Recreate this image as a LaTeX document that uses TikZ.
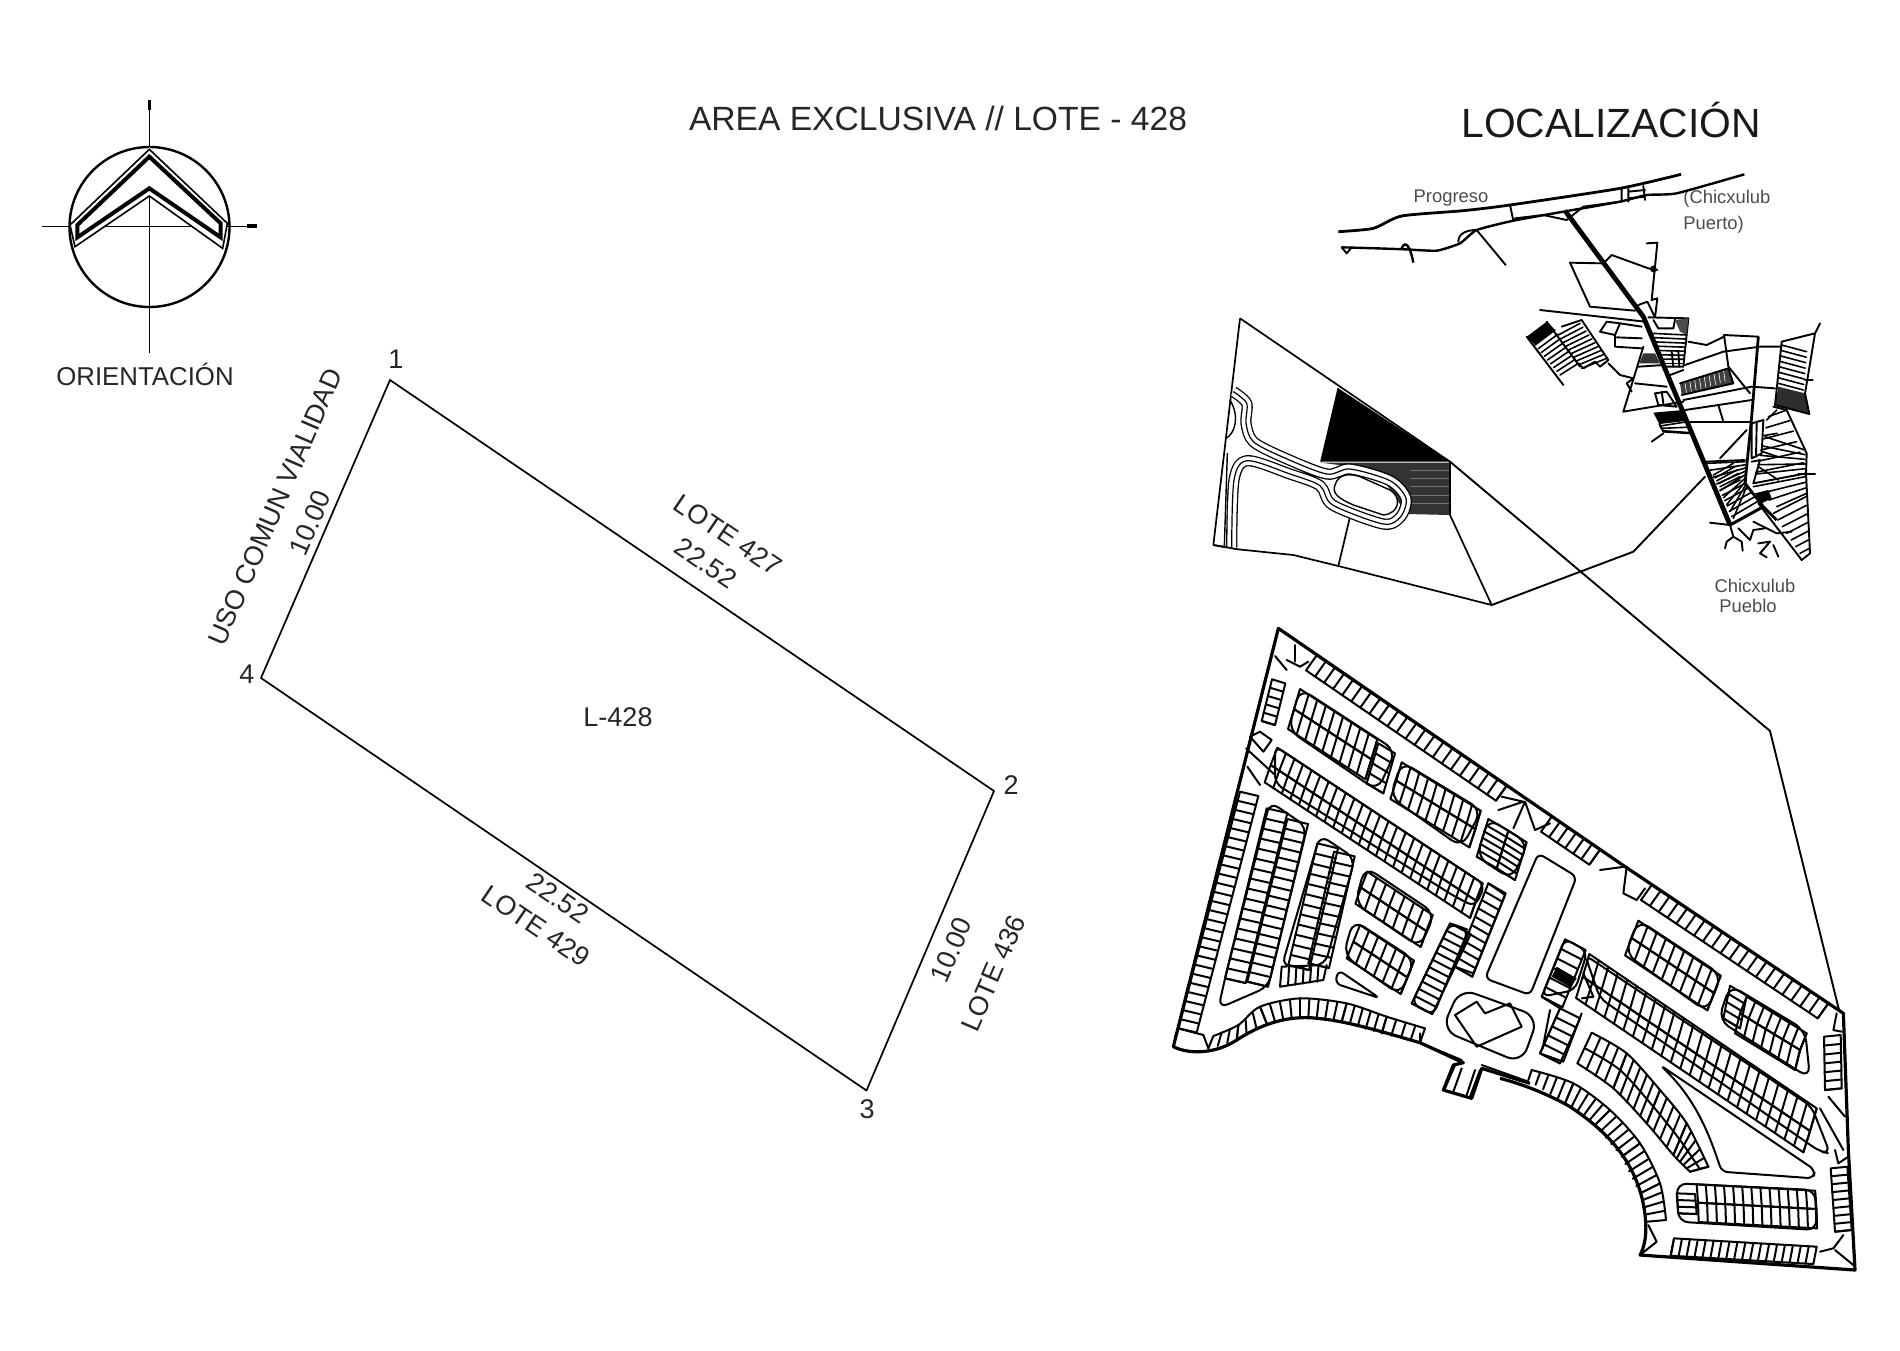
\documentclass[tikz,border=0pt]{standalone}
\usepackage{fontspec}
\setmainfont{Liberation Sans}
\tikzset{
  z/.style 2 args={shift={(#1,#2)},x=0.16667pt,y=-0.16667pt},
  bound/.style={draw=black,line width=0.85pt,line join=round},
  lot/.style={draw=black,line width=1pt,line join=round,line cap=round},
  site/.style={draw=black,line width=1.6pt,line join=round},
  tn/.style={draw=black,line width=0.95pt,line join=round,line cap=round},
  tnh/.style={draw=black,line width=0.8pt,line join=round,line cap=round},
  lab/.style={font=\fontsize{13.5}{16}\selectfont,inner sep=0pt,text=black!85},
  small/.style={font=\fontsize{9.2}{11}\selectfont,inner sep=0pt,text=black!70}
}
% straight strip of lots: a, b, depth vector, count
\newcommand{\lots}[7]{%
  \draw[lot] (#1,#2) -- (#3,#4) -- ++(#5,#6) -- ({#1+#5},{#2+#6}) -- cycle;
  \foreach \i in {1,...,#7}{\draw[lot] ({#1+(#3-#1)*(\i/#7)},{#2+(#4-#2)*(\i/#7)}) -- ++(#5,#6);}%
}
% hatch between edge a-b and edge c-d
\newcommand{\hatchq}[9]{%
  \foreach \i in {0,...,#9}{\draw[lot] ({#1+(#3-#1)*(\i/#9)},{#2+(#4-#2)*(\i/#9)}) -- ({#5+(#7-#5)*(\i/#9)},{#6+(#8-#6)*(\i/#9)});}%
}
\newcommand{\hatcht}[9]{%
  \foreach \i in {0,...,#9}{\draw[tnh] ({#1+(#3-#1)*(\i/#9)},{#2+(#4-#2)*(\i/#9)}) -- ({#5+(#7-#5)*(\i/#9)},{#6+(#8-#6)*(\i/#9)});}%
}
\begin{document}
\begin{tikzpicture}[x=0.5pt,y=-0.5pt]
\useasboundingbox (0,0) rectangle (1900,1350);
\fill[white] (0,0) rectangle (1900,1350);

% ---------- titles
\node[font=\fontsize{16.8}{18}\selectfont,inner sep=0pt,text=black!85] (title) at (938,118) {AREA EXCLUSIVA // LOTE - 428};
\node[font=\fontsize{20.4}{22}\selectfont,inner sep=0pt,text=black!90] (loc) at (1611,120) {LOCALIZACIÓN};
\node[font=\fontsize{12.9}{14}\selectfont,inner sep=0pt,text=black!85] (ori) at (145,374) {ORIENTACIÓN};

% ---------- north symbol
\coordinate (nT) at (149.5,100); \coordinate (nB) at (149.5,353);
\coordinate (nL) at (42,226.5); \coordinate (nR) at (257,226.5);
\draw[bound] (nT) -- (nB);
\draw[bound] (nL) -- (nR);
\draw[line width=1.6pt] (149.5,100) -- (149.5,110);
\draw[line width=1.6pt] (247,226) -- (257,226);
\draw[line width=1.2pt] (149.5,227) circle (80);
\begin{scope}[z={0}{60}]
  \fill[white] (448,262) -- (682,492) -- (668,565) -- (448,408) -- (225,560) -- (208,495) -- cycle;
  \draw[line width=0.8pt,line join=miter] (448,268) -- (682,490) -- (668,565) -- (448,408) -- (225,560) -- (210,495) -- cycle;
  \draw[line width=2pt,line join=miter] (448,290) -- (662,490) -- (662,532) -- (448,385) -- (232,532) -- (232,495) -- cycle;
\end{scope}

% ---------- main lot
\coordinate (p1) at (390,380); \coordinate (p2) at (994,791);
\coordinate (p3) at (866.5,1090.5); \coordinate (p4) at (261,678);
\draw[bound] (p1) -- (p2) -- (p3) -- (p4) -- cycle;
\node[lab] (n1) at (396,359) {1};
\node[lab] (n2) at (1011,785) {2};
\node[lab] (n3) at (867,1109) {3};
\node[lab] (n4) at (247,674) {4};
\node[lab] (l428) at (618,717) {L-428};
\node[lab,rotate=-34.2] (l427) at (728,535) {LOTE 427};
\node[lab,rotate=-34.2] (d1) at (706,563) {22.52};
\node[lab,rotate=-34.2] (d2) at (558,898) {22.52};
\node[lab,rotate=-34.2] (l429) at (536,926) {LOTE 429};
\node[lab,rotate=66.6] (uso) at (275,507) {USO COMUN VIALIDAD};
\node[lab,rotate=66.6] (d3) at (310,523) {10.00};
\node[lab,rotate=66.6] (d4) at (951,950) {10.00};
\node[lab,rotate=66.6] (l436) at (993,973) {LOTE 436};

% ---------- labels of the map
\node[small] (pr) at (1451,198) {Progreso};
\node[small,anchor=west] (cp1) at (1683,199) {(Chicxulub};
\node[small,anchor=west] (cp2) at (1683,225) {Puerto)};
\node[small] (cb1) at (1755,586) {Chicxulub};
\node[small] (cb2) at (1748,606) {Pueblo};

% ---------- inset
\begin{scope}[z={1210}{310}]
  \fill[black] (385,235) -- (720,455) -- (333,455) -- cycle;
  \fill[black!80] (333,458) -- (720,458) -- (720,615) -- (590,612) -- (500,480) -- cycle;
  \foreach \yy in {480,505,530,555,580}{\draw[black!55,line width=0.3pt] (600,\yy) -- (718,\yy);}
  \draw[bound] (90,25) -- (720,455) (90,25) -- (10,705) -- (85,718) -- (250,735) -- (385,768) -- (845,885) -- (720,615) -- (720,455);
  \draw[bound] (385,768) -- (420,620);
  \draw[bound] (385,235) -- (333,455);
  \coordinate (i1) at (720,455);
  \coordinate (i2) at (845,885);
  \draw[line width=5.6pt,black,line join=round] plot[smooth] coordinates {(65,712) (72,510) (112,452) (240,492) (330,527) (368,585) (520,642) (572,620) (588,565) (540,512) (420,477) (350,492) (220,442) (130,395) (108,340) (110,280) (70,245)};
  \draw[line width=4.3pt,white,line join=round] plot[smooth] coordinates {(65,718) (72,510) (112,452) (240,492) (330,527) (368,585) (520,642) (572,620) (588,565) (540,512) (420,477) (350,492) (220,442) (130,395) (108,340) (110,280) (70,245)};
  \draw[line width=0.6pt,black] plot[smooth] coordinates {(65,716) (72,510) (112,452) (240,492) (330,527) (368,585) (520,642) (572,620) (588,565) (540,512) (420,477) (350,492) (220,442) (130,395) (108,340) (110,280) (70,245)};
  \draw[bound] (10,705) -- (85,718);
  \draw[lot,line width=0.7pt] (60,270) .. controls (90,320) and (75,370) .. (48,385);
  \draw[lot,line width=0.7pt] (52,430) -- (43,708);
  \fill[white] (375,525) .. controls (385,490) and (420,490) .. (450,500) -- (540,540) .. controls (575,560) and (570,610) .. (520,615) -- (430,585) .. controls (385,565) and (365,550) .. (375,525);
  \draw[lot,line width=0.7pt] (375,525) .. controls (385,490) and (420,490) .. (450,500) -- (540,540) .. controls (575,560) and (570,610) .. (520,615) -- (430,585) .. controls (385,565) and (365,550) .. (375,525);
\end{scope}

% ---------- coast
\begin{scope}[z={1330}{160}]
  \draw[site,line width=1.4pt] plot[smooth,tension=0.4] coordinates {(25,215) (130,205) (215,168) (400,152) (540,135) (870,85) (1053,43)};
  \draw[site,line width=1.2pt] plot[smooth,tension=0.3] coordinates {(35,262) (140,265) (225,268) (320,272) (390,250) (440,210) (550,182) (700,155) (870,125) (950,105) (1040,100) (1243,43)};
  \draw[tn] (35,262) -- (50,280) -- (65,262);
  \draw[site,line width=1.2pt] (215,265) .. controls (225,240) and (240,255) .. (250,308);
  \draw[tn] (385,245) .. controls (385,220) and (410,210) .. (440,210);
  \draw[tn] (440,210) -- (527,315);
  \draw[tn] (540,135) -- (550,182);
  \draw[tn] (555,175) -- (640,165) -- (710,180) -- (760,140) -- (870,125);
  \draw[tn] (875,85) -- (875,125) (895,85) -- (895,125) (940,78) -- (945,120) (895,95) -- (945,90) (895,115) -- (945,110);
  \coordinate (r0) at (705,152);
\end{scope}

% ---------- town
\begin{scope}[z={1520}{220}]
  \draw[line width=2.4pt,black,line join=round] (r0) -- (370,290) -- (630,915);
  \draw[tn] (150,128) -- (245,130);
  \draw[tn] (150,128) -- (210,260) -- (345,272);
  \draw[tn] (250,130) -- (275,105) -- (385,145) -- (412,150);
  \draw[tn] (380,70) -- (412,68) -- (395,240) -- (412,235) -- (405,292) -- (382,245) -- (355,255);
  \fill (400,147) circle (10);
  \draw[tn] (60,270) -- (375,305);
  % west neighbourhood
  \fill (20,350) -- (80,305) -- (105,330) -- (45,375) -- cycle;
  \draw[tn] (20,350) -- (130,495);
  \draw[tn] (80,305) -- (180,440);
  \hatcht{45}{375}{120}{465}{105}{330}{175}{430}{8}
  \draw[tn] (125,320) -- (185,300) -- (265,420) -- (240,440) -- (225,425) -- (190,445) -- (175,430);
  \hatcht{115}{345}{185}{445}{180}{310}{260}{415}{9}
  \draw[tn] (265,430) -- (300,465) -- (340,475) -- (320,490) -- (335,515);
  % stairs
  \draw[tn] (240,335) -- (260,305) -- (300,310) -- (285,345) -- cycle;
  \draw[tn] (300,310) -- (365,320);
  \draw[tn] (285,345) -- (285,380) -- (365,385);
  \draw[tn] (290,352) -- (365,355);
  % wedge west of road
  \draw[tn] (370,380) -- (310,575) -- (490,545);
  \draw[tn] (355,440) -- (430,435);
  \draw[tn] (345,490) -- (440,500);
  \draw[tn] (385,292) -- (505,295) -- (490,440) -- (440,440);
  \draw[tn] (400,300) -- (415,325) -- (460,325) -- (465,298);
  \fill[black!80] (370,400) -- (405,400) -- (420,430) -- (358,430) -- cycle;
  \fill[black!70] (465,300) -- (505,295) -- (500,345) -- (480,335) -- cycle;
  \hatcht{395}{340}{430}{430}{500}{345}{490}{430}{7}
  \draw[tn] (455,395) -- (460,440) (475,395) -- (478,440);
  % centre
  \draw[tn] (505,365) -- (560,375) -- (612,350);
  \draw[tn] (612,345) -- (715,350);
  \draw[line width=1.4pt] (715,350) -- (695,590) -- (675,790);
  \draw[tn] (612,345) -- (625,440) -- (690,520);
  \draw[tn] (495,435) -- (610,395) -- (720,380) -- (785,380);
  \fill[black!75] (480,490) -- (625,445) -- (640,490) -- (485,525) -- cycle;
  \foreach \t in {1,...,9}{\draw[white,line width=0.3pt] ({480+\t*14.5},{490-\t*4.5}) -- ++(5,35);}
  \draw[tn] (450,465) -- (490,450) (480,490) -- (625,445) -- (640,490) -- (485,525);
  \draw[tn] (495,570) -- (695,540);
  \draw[tn] (490,540) -- (695,500) -- (765,505);
  \draw[tn] (505,605) -- (690,605);
  \draw[tn] (595,555) -- (610,605);
  \draw[tn] (405,520) -- (440,515) -- (470,560) -- (415,555) -- cycle;
  \draw[tn] (425,515) -- (430,550);
  \fill (400,578) -- (490,570) -- (505,602) -- (418,612) -- cycle;
  \draw[tn] (418,612) -- (430,635) -- (510,640);
  \hatcht{420}{618}{428}{632}{503}{605}{510}{638}{2}
  \draw[tn] (395,665) -- (430,640);
  % east hatched block
  \fill[black!82] (775,500) -- (855,520) -- (868,582) -- (765,555) -- cycle;
  \draw[tn] (785,365) -- (885,340) -- (855,520) -- (868,582) -- (765,555) -- (785,365);
  \hatcht{785}{375}{775}{490}{860}{395}{850}{510}{7}
  \draw[tn] (885,340) -- (900,310);
  \draw[tn] (855,480) -- (878,480);
  % south-east grid
  \draw[tn] (760,560) -- (800,570) -- (860,700) -- (858,760) -- (870,1000) -- (845,1020) -- (715,850);
  \draw[tn] (835,762) -- (885,762);
  \draw[line width=1.4pt] (675,790) -- (730,860) -- (770,900);
  \hatcht{740}{600}{715}{740}{770}{570}{775}{780}{3}
  \hatcht{745}{590}{700}{790}{800}{570}{860}{760}{6}
  \hatcht{735}{650}{700}{790}{855}{690}{856}{760}{5}
  \hatcht{700}{800}{770}{860}{856}{770}{860}{820}{3}
  \hatcht{760}{880}{840}{1000}{858}{830}{868}{985}{6}
  \fill (705,820) -- (745,810) -- (755,835) -- (725,850) -- cycle;
  \draw[tn] (695,610) -- (730,600) -- (725,700) -- (695,715) -- cycle;
  \draw[tn] (710,610) -- (708,710);
  \draw[tn] (695,725) -- (720,720) -- (700,790);
  % south-west block
  \draw[tn] (555,725) -- (675,720);
  \hatcht{560}{730}{640}{895}{675}{725}{680}{800}{8}
  \hatcht{580}{765}{600}{800}{640}{730}{660}{770}{4}
  \hatcht{600}{810}{635}{890}{660}{780}{720}{840}{5}
  \draw[line width=1.5pt] (630,915) -- (730,860);
  % roots
  \draw[tn] (570,908) -- (630,915);
  \draw[tn] (630,915) -- (640,950) -- (620,965) -- (615,985) (640,950) -- (665,965) -- (668,992) (655,925) -- (690,960) -- (700,930) -- (735,925);
  \draw[tn] (715,970) -- (750,965) -- (720,1000) -- (740,1012) (760,975) -- (775,1010);
  \draw[tn] (700,905) -- (770,940) -- (815,935);
  % leaders
  \coordinate (l1) at (680,630);
  \coordinate (l2) at (600,715);
  \coordinate (l3) at (555,770);
  \coordinate (l4) at (340,995);
  \draw[tn] (l1) -- (l2);
  \draw[tn] (l3) -- (l4);
\end{scope}
\draw[tn] (i2) -- (l4);
\coordinate (k1) at (1770,731);
\coordinate (k2) at (1839,1010);
\draw[tn] (i1) -- (k1) -- (k2);

% ---------- site plan, western half
\begin{scope}[z={1160}{620}]
  % outline
  \draw[site] (1385,733) -- (355,25) -- (40,1280) .. controls (90,1305) and (170,1300) .. (230,1260) .. controls (300,1215) and (370,1190) .. (450,1193) .. controls (560,1200) and (680,1240) .. (780,1268) -- (910,1328) -- (880,1335) -- (850,1410) -- (935,1435) -- (965,1345) -- (1110,1390);
  \draw[lot] (885,1335) -- (855,1405) (905,1345) -- (880,1415) (960,1350) -- (930,1430) (945,1350) -- (920,1425);
  \draw[lot] (780,1240) -- (780,1268) -- (905,1320);
  \draw[lot] (965,1335) -- (1105,1385);
  % edge strips
  \lots{470}{106}{1040}{497}{-32}{45}{21}
  \lots{1175}{590}{1320}{689}{-32}{45}{6}
  \lots{336}{178}{305}{303}{40}{12}{5}
  \lots{240}{515}{55}{1225}{55}{13}{26}
  % corner bits
  \draw[lot] (405,75) -- (405,125);
  \draw[lot] (345,108) -- (380,150);
  \draw[lot] (380,120) -- (420,140) -- (445,125);
  \draw[lot] (270,350) -- (300,335) -- (335,360) -- (310,395) -- cycle;
  \draw[lot] (258,385) -- (345,465);
  \draw[lot] (262,440) -- (300,495);
  \draw[lot] (55,1225) -- (130,1245) -- (145,1285);
  \draw[lot] (45,1250) -- (55,1225);
  \draw[lot] (1025,530) -- (1090,545) -- (1015,570);
  \draw[lot] (1095,545) -- (1060,625);
  \draw[lot] (1095,545) -- (1125,630) -- (1170,610);
  % block A
  \draw[lot,rounded corners=6pt] (420,205) -- (708,392) -- (652,512) -- (385,330) -- cycle;
  \lots{420}{207}{652}{358}{-18}{60}{9}
  \lots{402}{267}{634}{418}{-18}{60}{9}
  \lots{655}{370}{620}{490}{50}{30}{4}
  % block B
  \draw[lot,rounded corners=6pt] (725,425) -- (965,570) -- (905,682) -- (690,530) -- cycle;
  \lots{725}{427}{962}{572}{-16}{55}{9}
  \lots{709}{482}{946}{627}{-18}{55}{9}
  % block C
  \draw[lot,rounded corners=6pt] (985,595) -- (1105,670) -- (1055,778) -- (950,710) -- cycle;
  \lots{985}{597}{950}{710}{60}{35}{6}
  \lots{1045}{632}{1010}{745}{55}{35}{6}
  % long block D
  \draw[lot,rounded corners=4pt] (345,378) -- (975,795) -- (945,860) -- (885,830) -- (345,490) -- cycle;
  \lots{352}{383}{968}{790}{-20}{52}{24}
  \lots{332}{435}{948}{842}{-18}{52}{24}
  % block E
  \draw[lot] (985,790) -- (1035,825) -- (940,1060) -- (885,1040);
  \lots{985}{790}{885}{1040}{52}{30}{10}
  \draw[lot,rounded corners=4pt] (870,910) -- (900,920) -- (925,930) -- (820,1185) -- (755,1150) -- cycle;
  \lots{870}{910}{755}{1150}{62}{32}{11}
  % block F
  \draw[lot,rounded corners=5pt] (330,545) -- (440,620) -- (325,1100) -- (175,1165) -- (195,1075) -- cycle;
  \lots{320}{565}{195}{1075}{62}{14}{17}
  \lots{382}{597}{262}{1085}{62}{15}{17}
  % block G
  \draw[lot,rounded corners=5pt] (480,645) -- (585,715) -- (495,1035) -- (365,1040) -- cycle;
  \lots{472}{670}{385}{1035}{62}{15}{12}
  \lots{522}{695}{445}{1030}{62}{14}{11}
  \draw[lot] (380,1040) -- (365,1040) -- (360,1100) -- (490,1080) -- (500,1035);
  \foreach \t in {1,2,3,4,5}{\draw[lot] ({365+\t*22},1042) -- ({362+\t*22},{1100-\t*3});}
  % block H
  \draw[lot,rounded corners=6pt] (615,740) -- (825,880) -- (780,982) -- (585,850) -- cycle;
  \lots{622}{755}{818}{885}{-19}{48}{7}
  \lots{603}{803}{799}{933}{-17}{48}{7}
  % block I
  \draw[lot,rounded corners=6pt] (580,900) -- (765,1020) -- (720,1125) -- (550,1005) -- cycle;
  \lots{600}{915}{762}{1022}{-20}{50}{6}
  \lots{580}{965}{742}{1072}{-20}{50}{6}
  % triangle J
  \draw[lot,rounded corners=3pt] (535,1050) -- (660,1135) -- (525,1090) -- cycle;
  % plaza
  \draw[lot,rounded corners=3pt] (1135,700) -- (1250,770) -- (1110,1125) -- (975,1075) -- cycle;
  % club
  \draw[lot,rounded corners=8pt] (900,1105) -- (1135,1190) -- (1085,1330) -- (845,1230) -- cycle;
  \draw[lot] (885,1185) -- (950,1145) -- (975,1180) -- (1050,1150) -- (1085,1220) -- (950,1280) -- cycle;
  % bottom curved strip
  \draw[lot] plot[smooth] coordinates {(160,1248) (235,1215) (300,1160) (420,1135) (560,1150) (680,1190) (795,1225)};
  \hatchq{160}{1248}{235}{1215}{145}{1285}{230}{1262}{3}
  \hatchq{235}{1215}{300}{1160}{230}{1262}{320}{1210}{3}
  \hatchq{300}{1160}{420}{1135}{320}{1210}{420}{1190}{4}
  \hatchq{420}{1135}{560}{1150}{420}{1190}{545}{1205}{5}
  \hatchq{560}{1150}{680}{1190}{545}{1205}{665}{1240}{5}
  \hatchq{680}{1190}{795}{1225}{665}{1240}{780}{1268}{4}
\end{scope}

% ---------- site plan, eastern half
\begin{scope}[z={1500}{850}]
  % outline
  \draw[site] (365,43) -- (1030,490) -- (1045,900) -- (1065,1260) -- (420,1215) .. controls (445,1170) and (440,1100) .. (425,1040) .. controls (395,930) and (330,850) .. (210,770) .. controls (140,730) and (60,700) .. (0,685);
  % edge strips
  \lots{455}{105}{985}{460}{-32}{45}{20}
  \lots{972}{560}{975}{720}{50}{-5}{6}
  \lots{992}{955}{1005}{1145}{50}{-5}{8}
  \lots{950}{1190}{522}{1165}{-10}{52}{18}
  \draw[lot] (1010,490) -- (1000,540) -- (1025,545);
  \draw[lot] (985,740) -- (1035,800);
  \draw[lot] (960,775) -- (1030,900);
  \draw[lot] (1005,900) -- (1015,940) -- (1045,920);
  \draw[lot] (1005,1200) -- (1060,1245);
  \draw[lot] (960,1205) -- (1000,1195) -- (1030,1155);
  \draw[lot] (420,1215) -- (470,1175) -- (445,1125);
  \draw[lot] (380,50) -- (370,130) -- (410,150) -- (435,115);
  \draw[lot] (375,50) -- (300,60);
  \draw[lot] (250,370) -- (280,440) -- (245,445);
  % long block N
  \draw[lot,rounded corners=4pt] (255,315) -- (935,770) -- (990,910) -- (960,905) -- (300,445) -- cycle;
  \lots{268}{312}{950}{775}{-20}{68}{24}
  \lots{248}{380}{930}{843}{-20}{64}{24}
  % block O
  \draw[lot,rounded corners=6pt] (415,210) -- (665,375) -- (620,485) -- (375,310) -- cycle;
  \lots{415}{212}{662}{377}{-20}{52}{9}
  \lots{395}{264}{642}{429}{-20}{52}{9}
  % block P
  \draw[lot,rounded corners=6pt] (690,405) -- (915,540) -- (930,685) -- (655,510) -- cycle;
  \lots{690}{407}{670}{505}{50}{30}{4}
  \lots{740}{440}{920}{550}{-20}{50}{7}
  \lots{720}{490}{900}{600}{-15}{60}{7}
  % block M and neighbours
  \draw[lot,rounded corners=4pt] (195,265) -- (262,305) -- (225,420) -- (125,440) -- cycle;
  \lots{195}{268}{125}{440}{62}{32}{6}
  \fill (170,350) -- (230,385) -- (212,412) -- (155,380) -- cycle;
  \lots{180}{475}{120}{610}{60}{30}{5}
  \draw[lot] (120,610) -- (190,635) -- (245,490);
  \draw[lot] (125,440) -- (180,475) -- (120,610);
  \draw[lot] (150,480) -- (128,595);
  % curved strip Q
  \draw[lot] plot[smooth] coordinates {(275,548) (380,610) (480,720) (560,820) (625,950)};
  \draw[lot] plot[smooth] coordinates {(232,640) (340,715) (440,820) (520,915) (570,965)};
  \draw[lot] plot[smooth] coordinates {(255,595) (360,660) (460,770) (540,870) (598,955)};
  \draw[lot] (570,965) -- (625,950);
  \hatchq{275}{548}{380}{610}{232}{640}{340}{715}{4}
  \hatchq{380}{610}{480}{720}{340}{715}{440}{820}{5}
  \hatchq{480}{720}{560}{820}{440}{820}{520}{915}{4}
  \hatchq{560}{820}{625}{950}{520}{915}{570}{965}{5}
  % triangle R
  \draw[lot,rounded corners=3pt] (480,645) .. controls (590,750) and (630,860) .. (665,965) -- (940,985) -- (945,960) -- cycle;
  % block S
  \draw[lot,rounded corners=5pt] (530,1000) -- (945,1020) -- (950,1140) -- (535,1115) -- cycle;
  \lots{590}{1003}{945}{1022}{4}{55}{13}
  \lots{594}{1058}{949}{1077}{2}{58}{13}
  \lots{530}{1030}{535}{1090}{55}{2}{3}
  % arc strip
  \draw[lot] plot[smooth] coordinates {(95,660) (220,700) (330,780) (420,880) (480,1000) (498,1110)};
  \hatchq{95}{660}{220}{700}{85}{690}{195}{760}{5}
  \hatchq{220}{700}{330}{780}{195}{760}{285}{825}{5}
  \hatchq{330}{780}{420}{880}{285}{825}{365}{920}{5}
  \hatchq{420}{880}{480}{1000}{365}{920}{420}{1030}{5}
  \hatchq{480}{1000}{498}{1110}{420}{1030}{440}{1115}{4}
\end{scope}
\end{tikzpicture}
\end{document}
